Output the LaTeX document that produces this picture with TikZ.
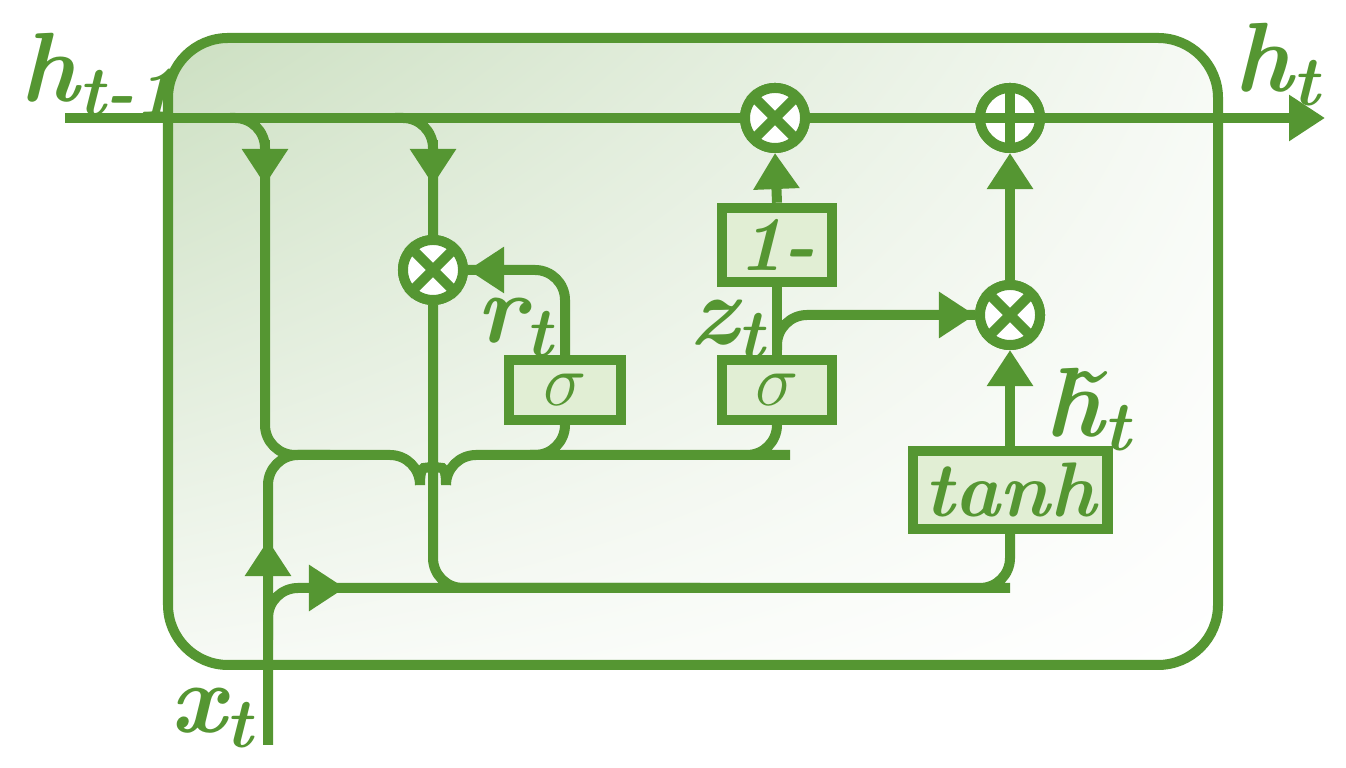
\documentclass[tikz,border=0pt]{standalone}
\usetikzlibrary{arrows.meta,shadings}
\begin{document}
\definecolor{gg}{RGB}{85,150,50}
\definecolor{gbox}{RGB}{225,238,212}
\begin{tikzpicture}[x=0.01cm,y=-0.01cm,line width=0.1cm,
  ln/.style={draw=gg,line width=0.1cm,rounded corners=0.3cm},
  ar/.style={-{Triangle[length=0.36cm,width=0.44cm]}},
  op/.style={circle,draw=gg,fill=white,line width=0.1cm,minimum size=0.6cm,inner sep=0},
  box/.style={draw=gg,fill=gbox,line width=0.1cm,minimum height=0.6cm,text=gg,font=\fontsize{22}{22}\selectfont\bfseries\itshape},
  lab/.style={text=gg,font=\fontsize{28}{28}\selectfont\bfseries\itshape,inner sep=0},
  sb/.style={}]
\newcommand{\sbt}[1]{\raisebox{-4pt}{\fontsize{20}{20}\selectfont #1}}
\useasboundingbox (0,0) rectangle (1346,768);
\shade[upper left=gg!30!white,lower right=white,upper right=white!95!gg,lower left=white!95!gg,rounded corners=0.6cm] (168,38) rectangle (1218,665);
\draw[gg,rounded corners=0.6cm] (168,38) rectangle (1218,665);
% nodes
\node[op] (m1) at (775,118) {};
\node[op] (p1) at (1010,118) {};
\node[op] (mr) at (433,270) {};
\node[op] (mz) at (1010,315) {};
\node[box,minimum width=1.12cm] (sr) at (565,390) {$\sigma$};
\node[box,minimum width=1.1cm] (sz) at (777,390) {$\sigma$};
\node[box,minimum width=1.1cm] (om) at (777,245) {1-};
\node[box,minimum width=1.6cm] (th) at (1010,490) {tanh};
\coordinate (hin) at (65,118);
\coordinate (hout) at (1325,118);
\coordinate (xin) at (268,745);
% h line
\draw[ln,ar] (hin) -- (hout);
% branches
\draw[ln] (230,118) -| (265,455) -- (420,455) arc (180:360:0.13cm) -- (760,455) -| (sz.south);
\draw[ln] (530,455) -| (sr.south);
\draw[ln,ar] (265,140) -- (265,185);
\draw[ln] (395,118) -| (433,240);
\draw[ln,ar] (433,140) -- (433,185);
\draw[ln] (xin) |- (330,455);
\draw[ln,ar] (xin) -- (268,540);
\draw[ln] (268,640) |- (980,588) -| (th.south);
\draw[ln,ar] (300,588) -- (345,588);
\draw[ln] (mr.south) |- (700,588);
\draw[ln] (sr.north) |- (mr.east);
\draw[line width=0.1cm,gg,ar] (520,270) -- (mr.east);
\draw[ln] (sz.north) -- (om.south);
\draw[ln] (777,350) |- (mz.west);
\draw[line width=0.1cm,gg,ar] (900,315) -- (mz.west);
\draw[ln,ar] (om.north) -- (m1.south);
\draw[ln,ar] (th.north) -- (mz.south);
\draw[ln,ar] (mz.north) -- (p1.south);
% redraw ops on top
\foreach \n in {m1,mr,mz}{\node[op] at (\n) {};
  \draw[gg] (\n.45) -- (\n.225) (\n.135) -- (\n.315);}
\node[op] at (p1) {};
\draw[gg] (p1.north) -- (p1.south) (p1.west) -- (p1.east);
% labels
\node[lab,anchor=west] (l1) at (15,75) {h\sbt{t-1}};
\node[lab,anchor=east] (l2) at (1325,65) {h\sbt{t}};
\node[lab,anchor=east] (l3) at (558,328) {r\sbt{t}};
\node[lab,anchor=east] (l4) at (770,330) {z\sbt{t}};
\node[lab,anchor=west] (l5) at (1040,410) {\~h\sbt{t}};
\node[lab,anchor=east] (l6) at (258,718) {x\sbt{t}};
\end{tikzpicture}
\end{document}
